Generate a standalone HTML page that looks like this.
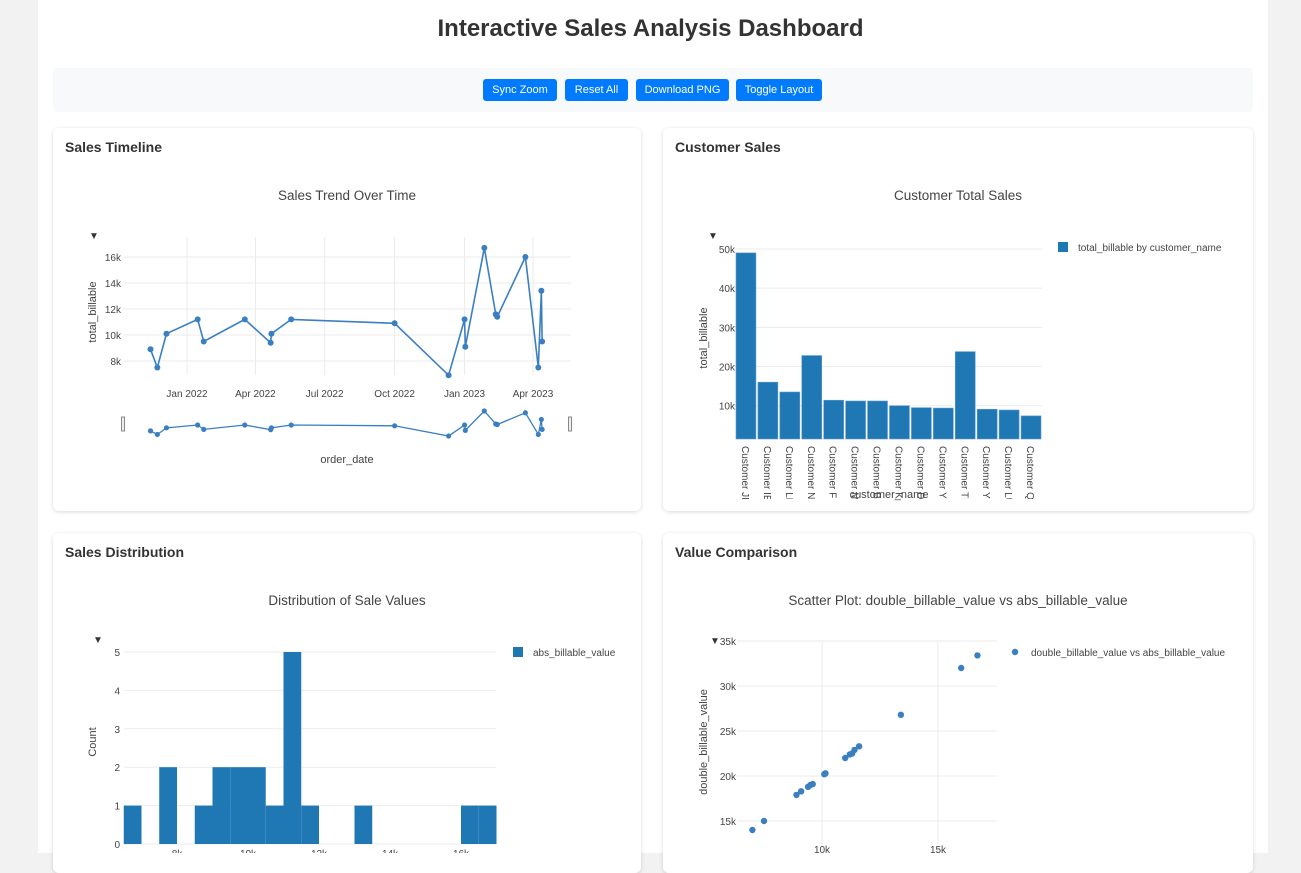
<!DOCTYPE html>
<html><head><meta charset="utf-8">
<style>
body{margin:0;background:#f2f2f2;font-family:"Liberation Sans",sans-serif;width:1301px;height:853px;overflow:hidden;position:relative}
#wrap{position:absolute;left:38px;top:0;width:1230px;height:853px;background:#fff}
h1{position:absolute;left:0;width:1301px;top:15px;margin:0;text-align:center;font-size:24px;color:#333;font-weight:bold}
#toolbar{position:absolute;left:53px;top:68px;width:1200px;height:44px;background:#f8f9fa;border-radius:4px}
.btn{position:absolute;top:79px;height:22px;background:#007bff;color:#fff;font-size:11px;line-height:22px;text-align:center;border-radius:3px}
.card{position:absolute;background:#fff;border-radius:6px;box-shadow:0 1px 4px rgba(0,0,0,.15)}
.card h3{position:absolute;left:12px;top:11px;margin:0;font-size:14px;color:#333}
svg{position:absolute;left:0;top:0}
</style></head><body>
<div id="wrap"></div>
<h1>Interactive Sales Analysis Dashboard</h1>
<div id="toolbar"></div>
<div class="btn" style="left:483px;width:74px">Sync Zoom</div>
<div class="btn" style="left:565px;width:63px">Reset All</div>
<div class="btn" style="left:636px;width:93px">Download PNG</div>
<div class="btn" style="left:736px;width:86px">Toggle Layout</div>
<div class="card" style="left:53px;top:128px;width:588px;height:383px"><h3>Sales Timeline</h3></div>
<div class="card" style="left:663px;top:128px;width:590px;height:383px"><h3>Customer Sales</h3></div>
<div class="card" style="left:53px;top:533px;width:588px;height:340px"><h3>Sales Distribution</h3></div>
<div class="card" style="left:663px;top:533px;width:590px;height:340px"><h3>Value Comparison</h3></div>
<svg id="s" width="1301" height="853" font-family="Liberation Sans, sans-serif"></svg>
<script>
// ---- timeline data
const orderDates=["2021-11-14","2021-11-23","2021-12-05","2022-01-15","2022-01-23","2022-03-18","2022-04-21","2022-04-22","2022-05-18","2022-10-01","2022-12-11","2023-01-01","2023-01-02","2023-01-27","2023-02-11","2023-02-13","2023-03-22","2023-04-08","2023-04-12","2023-04-13"];
const totalBillable=[8900,7500,10100,11200,9500,11200,9400,10100,11200,10900,6900,11200,9100,16700,11600,11400,16000,7500,13400,9500];
const timeTicks=["Jan 2022","Apr 2022","Jul 2022","Oct 2022","Jan 2023","Apr 2023"];
const timeTickDates=["2022-01-01","2022-04-01","2022-07-01","2022-10-01","2023-01-01","2023-04-01"];
const lineYTicks=[8000,10000,12000,14000,16000];
// ---- customer data
const customers=["Customer JF","Customer IE","Customer LI","Customer NI","Customer FI","Customer MA","Customer BR","Customer KA","Customer DO","Customer YI","Customer TI","Customer YU","Customer LU","Customer QU"];
const customerTotals=[49000,16000,13500,22800,11400,11200,11200,10000,9500,9400,23800,9100,8900,7400];
const barYTicks=[10000,20000,30000,40000,50000];
// ---- histogram data
const binStarts=[6500,7000,7500,8000,8500,9000,9500,10000,10500,11000,11500,12000,12500,13000,13500,14000,14500,15000,15500,16000,16500];
const binCounts=[1,0,2,0,1,2,2,2,1,5,1,0,0,1,0,0,0,0,0,1,1];
const histXTicks=[8000,10000,12000,14000,16000];
const histYTicks=[0,1,2,3,4,5];
// ---- scatter data
const absValues=[7000,7500,8900,9100,9400,9500,9600,10100,10150,11000,11200,11300,11400,11600,13400,16000,16700];
const doubleValues=[14000,15000,17900,18300,18800,19000,19100,20200,20300,22000,22400,22500,22900,23300,26800,32000,33400];
const scatterXTicks=[10000,15000];
const scatterYTicks=[15000,20000,25000,30000,35000];

const S=document.getElementById('s');const NS='http://www.w3.org/2000/svg';
function el(t,a,txt){const e=document.createElementNS(NS,t);for(const k in a)e.setAttribute(k,a[k]);if(txt!=null)e.textContent=txt;S.appendChild(e);return e;}
function lin(d0,d1,r0,r1){return v=>r0+(v-d0)*(r1-r0)/(d1-d0);}
const fmtK=v=>(v/1000)+'k';
const grid='#ebebeb',txtc='#444',blue='#3a7fc1',barc='#1f77b4';
function title(x,y,t,n){const e=el('text',{x:x,y:y,'text-anchor':'middle','font-size':13.5,fill:'#444'},t);}
function arrow(x,y){const e=el('text',{x:x,y:y,'font-size':10,fill:'#333'},'▼');}

// ===== Timeline
const day=s=>Date.parse(s)/864e5;
const tx=lin(day("2022-01-01"),day("2023-04-01"),187,533);
const ty=lin(8000,16000,361,257);
title(347,200,'Sales Trend Over Time','timeline-title');arrow(89,239);
timeTickDates.forEach((d,i)=>{const x=tx(day(d));
 const g=el('line',{x1:x,x2:x,y1:237,y2:375,stroke:grid});
 const t=el('text',{x:x,y:397,'text-anchor':'middle','font-size':10,fill:txtc},timeTicks[i]);});
lineYTicks.forEach(v=>{const y=ty(v);
 const g=el('line',{x1:123,x2:571,y1:y,y2:y,stroke:grid});
 const t=el('text',{x:121,y:y+4,'text-anchor':'end','font-size':10,fill:txtc},fmtK(v));});
let yl=el('text',{transform:'translate(96,312) rotate(-90)','text-anchor':'middle','font-size':11,fill:txtc},'total_billable');
let pts=orderDates.map((d,i)=>tx(day(d))+','+ty(totalBillable[i])).join(' ');
let pl=el('polyline',{points:pts,fill:'none',stroke:blue,'stroke-width':1.6});
orderDates.forEach((d,i)=>{const c=el('circle',{cx:tx(day(d)),cy:ty(totalBillable[i]),r:3,fill:blue});});
// range slider
const ry=lin(6900,16700,436,411);
let rs=el('polyline',{points:orderDates.map((d,i)=>tx(day(d))+','+ry(totalBillable[i])).join(' '),fill:'none',stroke:blue,'stroke-width':1.3});
orderDates.forEach((d,i)=>{const c=el('circle',{cx:tx(day(d)),cy:ry(totalBillable[i]),r:2.6,fill:blue});});
[123,570].forEach(x=>{const h=el('rect',{x:x-1.5,y:417,width:3,height:14,fill:'#eee',stroke:'#888','stroke-width':1});});
let xl=el('text',{x:347,y:463,'text-anchor':'middle','font-size':11,fill:txtc},'order_date');

// ===== Customer bar
const bx0=735,bw=(1042-735)/customers.length;
const by=lin(1500,50000,439,249);
title(958,200,'Customer Total Sales','customer-chart-title');arrow(708,239);
barYTicks.forEach(v=>{const y=by(v);const g=el('line',{x1:735,x2:1042,y1:y,y2:y,stroke:grid});
 const t=el('text',{x:735,y:y+4,'text-anchor':'end','font-size':10,fill:txtc},fmtK(v));});
customers.forEach((c,i)=>{const x=bx0+i*bw+1;const y=by(customerTotals[i]);
 const r=el('rect',{x:x,y:y,width:bw-2,height:439-y,fill:barc,stroke:'#5f9bd0','stroke-width':0.6});
 const t=el('text',{transform:`translate(${x+bw/2-5},446) rotate(90)`,'font-size':10,fill:txtc},c);});
el('rect',{x:700,y:499,width:350,height:12,fill:'#fff'});
let cx=el('text',{x:889,y:498,'text-anchor':'middle','font-size':11,fill:txtc},'customer_name');
let cy=el('text',{transform:'translate(707,338) rotate(-90)','text-anchor':'middle','font-size':11,fill:txtc},'total_billable');
let lg=el('rect',{x:1058,y:242,width:10,height:10,fill:barc});
let lt=el('text',{x:1078,y:251,'font-size':10,fill:txtc},'total_billable by customer_name');

// ===== Histogram
const hx=lin(8000,16000,177,461),hy=lin(0,5,844,652);
title(347,605,'Distribution of Sale Values','histogram-title');arrow(93,643);
histYTicks.forEach(v=>{const y=hy(v);const g=el('line',{x1:124,x2:496,y1:y,y2:y,stroke:grid});
 const t=el('text',{x:120,y:y+4,'text-anchor':'end','font-size':10,fill:txtc},v);});
binStarts.forEach((b,i)=>{if(!binCounts[i])return;const x=hx(b),w=hx(b+500)-x,y=hy(binCounts[i]);
 const r=el('rect',{x:x,y:y,width:w,height:844-y,fill:barc});});
histXTicks.forEach(v=>{const t=el('text',{x:hx(v),y:857,'text-anchor':'middle','font-size':10,fill:txtc},fmtK(v));});
let hyt=el('text',{transform:'translate(96,742) rotate(-90)','text-anchor':'middle','font-size':11,fill:txtc},'Count');
let hl=el('rect',{x:513,y:647,width:10,height:10,fill:barc});
let hlt=el('text',{x:533,y:656,'font-size':10,fill:txtc},'abs_billable_value');

// ===== Scatter
const sx=lin(10000,15000,822,938),sy=lin(15000,35000,821,641);
title(958,605,'Scatter Plot: double_billable_value vs abs_billable_value','scatter-title');arrow(710,644);
scatterXTicks.forEach(v=>{const x=sx(v);const g=el('line',{x1:x,x2:x,y1:641,y2:853,stroke:grid});
 const t=el('text',{x:x,y:853,'text-anchor':'middle','font-size':10,fill:txtc},fmtK(v));});
scatterYTicks.forEach(v=>{const y=sy(v);const g=el('line',{x1:737,x2:997,y1:y,y2:y,stroke:grid});
 const t=el('text',{x:736,y:y+4,'text-anchor':'end','font-size':10,fill:txtc},fmtK(v));});
absValues.forEach((v,i)=>{const c=el('circle',{cx:sx(v),cy:sy(doubleValues[i]),r:3.2,fill:blue});});
let syt=el('text',{transform:'translate(707,742) rotate(-90)','text-anchor':'middle','font-size':11,fill:txtc},'double_billable_value');
let sl=el('circle',{cx:1015,cy:652,r:3.2,fill:blue});
let slt=el('text',{x:1031,y:656,'font-size':10,fill:txtc},'double_billable_value vs abs_billable_value');
</script>
</body></html>
